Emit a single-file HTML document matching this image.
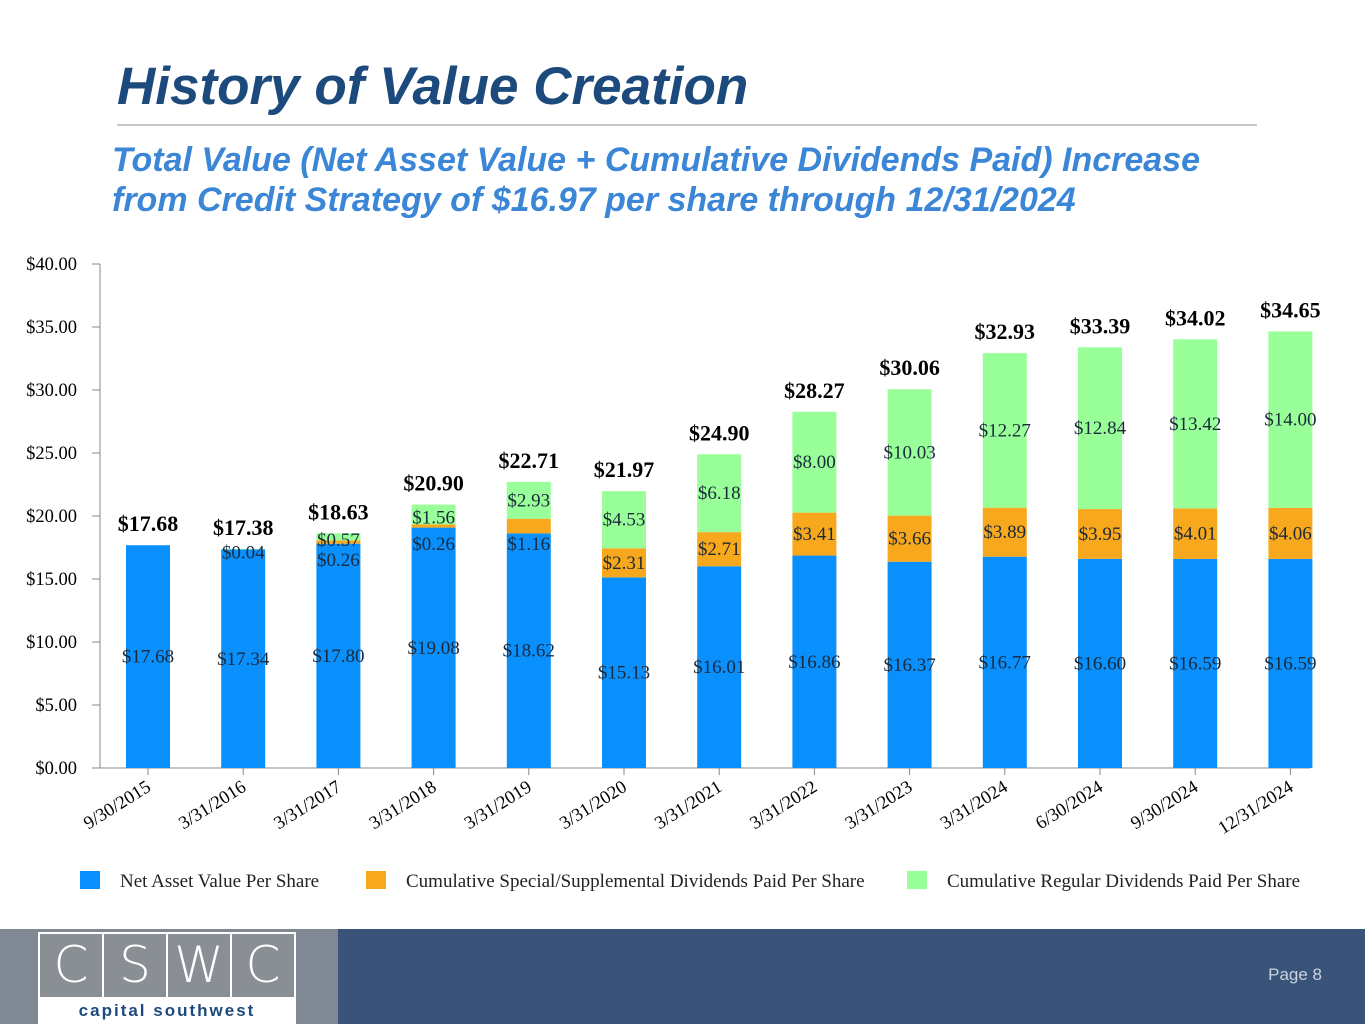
<!DOCTYPE html>
<html><head><meta charset="utf-8"><style>
body{margin:0;width:1365px;height:1024px;overflow:hidden;background:#fff;position:relative;font-family:"Liberation Serif",serif}
.t{position:absolute;font-family:"Liberation Sans",sans-serif;font-weight:bold;font-style:italic}
</style></head><body>
<div class="t" style="left:117px;top:56px;font-size:53px;color:#1d4a7c">History of Value Creation</div>
<div style="position:absolute;left:117px;top:124px;width:1140px;height:2px;background:#c8c8c8"></div>
<div class="t" style="left:112px;top:140px;font-size:34px;line-height:40px;color:#3b86d6;white-space:nowrap">Total Value (Net Asset Value + Cumulative Dividends Paid) Increase<br>from Credit Strategy of $16.97 per share through 12/31/2024</div>
<svg id="chart" width="1365" height="920" style="position:absolute;left:0;top:0"></svg>
<div style="position:absolute;left:0;top:929px;width:338px;height:95px;background:#7f8893"></div>
<div style="position:absolute;left:338px;top:929px;width:1027px;height:95px;background:#3a5479"></div>
<div style="position:absolute;left:38px;top:932px;width:258px;height:92px;background:#fff">
 <div style="display:flex;gap:2px;padding:2px 2px 0 2px">
  <div style="flex:1;height:63px;background:#8a8f96;color:#fff;font:50px 'DejaVu Sans',sans-serif;font-weight:200;text-align:center;line-height:63px">C</div>
  <div style="flex:1;height:63px;background:#8a8f96;color:#fff;font:50px 'DejaVu Sans',sans-serif;font-weight:200;text-align:center;line-height:63px">S</div>
  <div style="flex:1;height:63px;background:#8a8f96;color:#fff;font:50px 'DejaVu Sans',sans-serif;font-weight:200;text-align:center;line-height:63px">W</div>
  <div style="flex:1;height:63px;background:#8a8f96;color:#fff;font:50px 'DejaVu Sans',sans-serif;font-weight:200;text-align:center;line-height:63px">C</div>
 </div>
 <div style="text-align:center;font:bold 17px 'Liberation Sans',sans-serif;letter-spacing:2px;color:#1d4a7c;margin-top:4px">capital southwest</div>
</div>
<div style="position:absolute;right:43px;top:965px;font:17px 'Liberation Sans',sans-serif;color:#c9d3e0">Page 8</div>
<script>
const categories=["9/30/2015","3/31/2016","3/31/2017","3/31/2018","3/31/2019","3/31/2020","3/31/2021","3/31/2022","3/31/2023","3/31/2024","6/30/2024","9/30/2024","12/31/2024"];
const navValues=[17.68,17.34,17.80,19.08,18.62,15.13,16.01,16.86,16.37,16.77,16.60,16.59,16.59];
const specialValues=[0,0,0.26,0.26,1.16,2.31,2.71,3.41,3.66,3.89,3.95,4.01,4.06];
const regularValues=[0,0.04,0.57,1.56,2.93,4.53,6.18,8.00,10.03,12.27,12.84,13.42,14.00];
const totalLabels=["$17.68","$17.38","$18.63","$20.90","$22.71","$21.97","$24.90","$28.27","$30.06","$32.93","$33.39","$34.02","$34.65"];
const yTicks=[0,5,10,15,20,25,30,35,40];
const svg=document.getElementById('chart');const NS='http://www.w3.org/2000/svg';
const y0=768,ppu=12.6,x0=148,step=95.2,bw=44;
const Y=v=>y0-v*ppu, X=i=>x0+i*step;
function mk(t,a,txt){const e=document.createElementNS(NS,t);for(const k in a)e.setAttribute(k,a[k]);if(txt!==undefined)e.textContent=txt;svg.appendChild(e);return e;}
let e=mk('line',{x1:100,y1:264,x2:100,y2:768,stroke:'#888'});

e=mk('line',{x1:100,y1:768,x2:1310,y2:768,stroke:'#888'});

yTicks.forEach(v=>{mk('line',{x1:92,x2:100,y1:Y(v),y2:Y(v),stroke:'#888'});
 e=mk('text',{x:77,y:Y(v)+6,'text-anchor':'end','font-size':18.5,fill:'#000'},'$'+v.toFixed(2));
 });
const lab=(x,y,t,b,s)=>{const l=mk('text',{x:x,y:y,'text-anchor':'middle','font-size':s||19,'font-weight':b?'bold':'normal',fill:b?'#000':'#1a2a3a'},t);return l;};
categories.forEach((c,i)=>{
 const x=X(i),n=navValues[i],s=specialValues[i],r=regularValues[i];
 e=mk('rect',{x:x-bw/2,y:Y(n),width:bw,height:n*ppu,fill:'#0a90fc'});
 
 if(s>0){e=mk('rect',{x:x-bw/2,y:Y(n+s),width:bw,height:s*ppu,fill:'#f8a81c'});
 }
 if(r>0){e=mk('rect',{x:x-bw/2,y:Y(n+s+r),width:bw,height:r*ppu,fill:'#99ff99'});
 }
 mk('line',{x1:x,x2:x,y1:768,y2:775,stroke:'#888'});
 e=lab(x,Y(n/2)+6,'$'+n.toFixed(2));
 if(s>0){const h=s*ppu;let yy=Y(n+s/2)+6;if(h<20)yy+=18;e=lab(x,yy,'$'+s.toFixed(2));}
 if(r>0){const h=r*ppu;let yy=Y(n+s+r/2)+6;if(h<20)yy+=3;e=lab(x,yy,'$'+r.toFixed(2));}
 e=lab(x,Y(n+s+r)-14,totalLabels[i],true,22);
 e=mk('text',{x:x+4,y:790,'text-anchor':'end','font-size':18.5,fill:'#000',transform:`rotate(-32 ${x+4} 790)`},c);
 
});
const legend=[["Net Asset Value Per Share","#0a90fc",80],["Cumulative Special/Supplemental Dividends Paid Per Share","#f8a81c",366],["Cumulative Regular Dividends Paid Per Share","#99ff99",907]];
legend.forEach(l=>{e=mk('rect',{x:l[2],y:871,width:20,height:18,fill:l[1]});
 
 e=mk('text',{x:l[2]+40,y:887,'font-size':19,fill:'#222'},l[0]);
 });
</script>
</body></html>
